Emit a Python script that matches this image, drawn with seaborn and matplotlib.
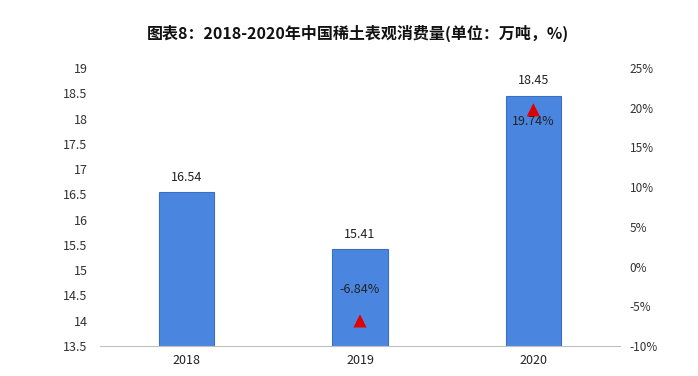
import matplotlib
matplotlib.use("Agg")
import matplotlib.pyplot as plt
import seaborn as sns
import pandas as pd
import numpy as np

years = ["2018", "2019", "2020"]
consumption = [16.54, 15.41, 18.45]
growth = [np.nan, -6.84, 19.74]
left_ticks = [13.5, 14, 14.5, 15, 15.5, 16, 16.5, 17, 17.5, 18, 18.5, 19]
right_ticks = [-10, -5, 0, 5, 10, 15, 20, 25]
title = "图表8：2018-2020年中国稀土表观消费量(单位：万吨，%)"

sns.set_theme(style="white")
plt.rcParams['font.family'] = ['Noto Sans CJK SC', 'DejaVu Sans']

df = pd.DataFrame({"year": years, "value": consumption, "growth": growth})

fig = plt.figure(figsize=(6.98, 3.76), dpi=100)
ax = fig.add_axes([100/698, 1-346/376, 520/698, (346-68)/376])

sns.barplot(data=df, x="year", y="value", ax=ax, color="#4a86e0",
            width=0.32, edgecolor="#3a6fc0", linewidth=0.8, saturation=1)
ax.set_xlim(-0.5, 2.5)
ax.set_ylim(13.5, 19)
ax.set_yticks(left_ticks)
ax.set_yticklabels([f"{t:g}" for t in left_ticks], fontsize=9, color="#333333")
ax.tick_params(axis="y", length=0, pad=9)
ax.tick_params(axis="x", length=0, pad=6, labelsize=9, labelcolor="#222222")
ax.set_xlabel("")
ax.set_ylabel("")
for s in ["top", "right", "left"]:
    ax.spines[s].set_visible(False)
ax.spines["bottom"].set_color("#bfbfbf")
ax.spines["bottom"].set_linewidth(0.8)
ax.bar_label(ax.containers[0], labels=[f"{v:.2f}" for v in consumption],
             padding=6, fontsize=9, color="#222222")

ax2 = ax.twinx()
gdf = df.dropna()
sns.scatterplot(data=gdf, x="year", y="growth", ax=ax2, marker="^",
                color="#e00000", s=90, edgecolor="none", zorder=5)
ax2.set_ylim(-10, 25)
ax2.set_yticks(right_ticks)
ax2.set_yticklabels([f"{t}%" for t in right_ticks], fontsize=8.5, color="#333333")
ax2.tick_params(axis="y", length=0, pad=7)
ax2.set_ylabel("")
ax2.set_xlabel("")
for s in ["top", "right", "left", "bottom"]:
    ax2.spines[s].set_visible(False)

for i, g in enumerate(growth):
    if np.isnan(g):
        continue
    if g < 0:
        ax2.annotate(f"{g:.2f}%", (i, g), xytext=(0, 18), textcoords="offset points",
                     ha="center", va="bottom", fontsize=9, color="#222222")
    else:
        ax2.annotate(f"{g:.2f}%", (i, g), xytext=(0, -4), textcoords="offset points",
                     ha="center", va="top", fontsize=9, color="#222222")

fig.text(358/698, 1-33/376, title, ha="center", va="center", fontsize=11.5,
         fontweight="bold", color="#111111")

fig.savefig("out.png", dpi=100)
